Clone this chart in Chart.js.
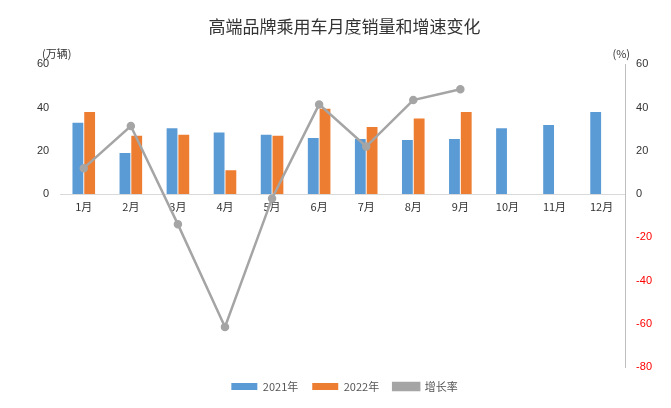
<!DOCTYPE html>
<html>
<head>
<meta charset="utf-8">
<script src="https://cdn.jsdelivr.net/npm/chart.js@4"></script>
<style>
body { margin: 0; background: #fff; }
#wrap { width: 671px; height: 408px; }
</style>
</head>
<body>
<div id="wrap"><canvas id="myChart"></canvas></div>
<script>
const months = ['1月', '2月', '3月', '4月', '5月', '6月', '7月', '8月', '9月', '10月', '11月', '12月'];
const sales2021 = [33, 19, 30.5, 28.5, 27.5, 26, 25.5, 25, 25.5, 30.5, 32, 38];
const sales2022 = [38, 27, 27.5, 11, 27, 39.5, 31, 35, 38, null, null, null];
const growth = [12, 31.5, -14, -61.5, -2, 41.5, 22, 43.5, 48.5, null, null, null];

const unitLabels = {
	id: 'unitLabels',
	afterDraw(c) {
		const ctx = c.ctx;
		ctx.save();
		ctx.font = '11px "Noto Sans CJK SC"';
		ctx.fillStyle = '#333';
		ctx.textAlign = 'left';
		ctx.fillText('(万辆)', 42, 54);
		ctx.textAlign = 'right';
		ctx.fillText('(%)', 630, 54);
		ctx.restore();
	}
};

const chart = new Chart(document.getElementById('myChart'), {
	data: {
		labels: months,
		datasets: [
			{ type: 'line', label: '增长率', data: growth, yAxisID: 'y1', borderColor: '#a5a5a5', backgroundColor: '#a5a5a5', borderWidth: 2.5, pointRadius: 3, order: 0 },
			{ type: 'bar', label: '2021年', data: sales2021, yAxisID: 'y', backgroundColor: '#5b9bd5', barPercentage: 0.92, categoryPercentage: 0.5, order: 1 },
			{ type: 'bar', label: '2022年', data: sales2022, yAxisID: 'y', backgroundColor: '#ed7d31', barPercentage: 0.92, categoryPercentage: 0.5, order: 1 }
		]
	},
	options: {
		responsive: true,
		maintainAspectRatio: false,
		animation: false,
		layout: { padding: { top: 10, left: 34, right: 16, bottom: 6 } },
		plugins: {
			title: { display: true, text: '高端品牌乘用车月度销量和增速变化', color: '#333', font: { size: 17, family: '"Noto Sans CJK SC"', weight: 'normal' }, padding: { top: 6, bottom: 28 } },
			legend: {
				position: 'bottom',
				labels: {
					color: '#555', font: { size: 11, family: '"Noto Sans CJK SC"' }, boxWidth: 26, boxHeight: 7, padding: 14,
					sort: (a, b) => (a.text === '增长率') - (b.text === '增长率')
				}
			}
		},
		scales: {
			x: {
				position: { y: 0 },
				grid: { display: false, drawTicks: false },
				border: { color: '#d9d9d9' },
				ticks: { color: '#333', font: { size: 11, family: '"Noto Sans CJK SC"' }, padding: 6 }
			},
			y: {
				min: -80, max: 60,
				ticks: { stepSize: 20, color: '#333', font: { size: 11 }, callback: v => v >= 0 ? v : '' },
				grid: { display: false },
				border: { display: false }
			},
			y1: {
				position: 'right',
				min: -80, max: 60,
				ticks: { stepSize: 20, font: { size: 11 }, color: ctx => ctx.tick.value < 0 ? '#ff0000' : '#333' },
				grid: { display: false },
				border: { color: '#bfbfbf' }
			}
		}
	},
	plugins: [unitLabels]
});
</script>
</body>
</html>
